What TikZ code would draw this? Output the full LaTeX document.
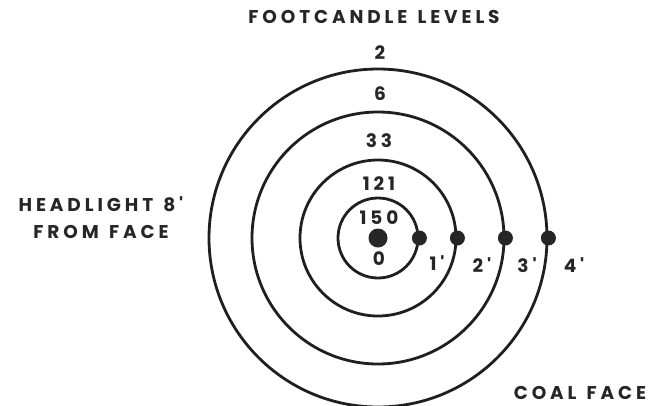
\documentclass[tikz,border=0pt]{standalone}
\usepackage{fontspec}
\newfontfamily\lbl[LetterSpace=21]{Poppins}
\newcommand{\gap}{\hspace{0.55em}}
\begin{document}
\begin{tikzpicture}[x=1pt,y=-1pt,
  ring/.style={circle,draw=black!88,line width=2.8pt,inner sep=0pt},
  blob/.style={circle,fill=black!85,inner sep=0pt,minimum size=15pt},
  txt/.style={font=\lbl\bfseries\fontsize{18.5}{22}\selectfont,text=black!85,inner sep=0pt}]
\useasboundingbox (0,0) rectangle (656,405);
\coordinate (c) at (378,238);
\node[ring,minimum size=80pt] (r1) at (c) {};
\node[ring,minimum size=156pt] (r2) at (c) {};
\node[ring,minimum size=252pt] (r3) at (c) {};
\node[ring,minimum size=338pt] (r4) at (c) {};
\node[blob,minimum size=19pt] (lamp) at (c) {};
\node[blob] (d1) at (r1.east) {};
\node[blob] (d2) at (r2.east) {};
\node[blob] (d3) at (r3.east) {};
\node[blob] (d4) at (r4.east) {};
\node[txt] (title) at (374,17) {FOOTCANDLE\gap LEVELS};
\node[txt] (v2) at (380,53) {2};
\node[txt] (v6) at (380,94) {6};
\node[txt] (v33) at (379,141) {33};
\node[txt] (v121) at (379,184) {121};
\node[txt] (v150) at (379,218) {150};
\node[txt] (v0) at (379,259) {0};
\node[txt] (f1) at (437,263) {1'};
\node[txt] (f2) at (482,265) {2'};
\node[txt] (f3) at (527,265) {3'};
\node[txt] (f4) at (574,265) {4'};
\node[txt,align=center] (head) at (101,218) {HEADLIGHT\gap 8'\\[5pt]FROM\gap FACE};
\node[txt,anchor=base] (coal) at (580,399) {COAL\gap FACE};
\end{tikzpicture}
\end{document}
